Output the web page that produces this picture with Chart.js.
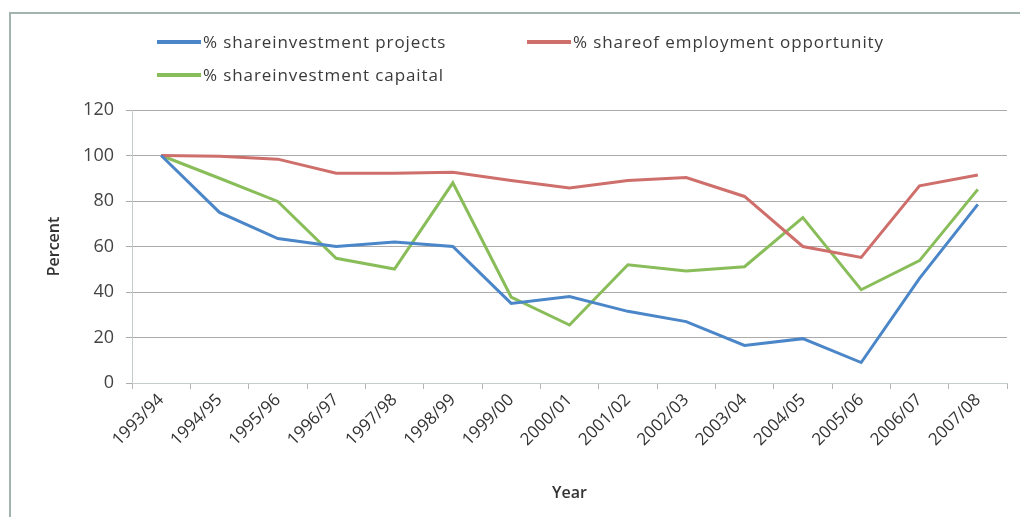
<!DOCTYPE html>
<html>
<head>
<meta charset="utf-8">
<script src="https://cdn.jsdelivr.net/npm/chart.js@4"></script>
<style>
  html, body { margin: 0; padding: 0; background: #fff; }
  #wrap { position: relative; width: 1020px; height: 517px; overflow: hidden; }
  #frame { position: absolute; left: 9px; top: 12px; right: -4px; bottom: -4px;
           border-left: 2px solid #a3b3af; border-top: 2px solid #a3b3af; }
  #chart { position: absolute; left: 0; top: 0; }
  .key { position: absolute; font-family: "Open Sans", sans-serif; font-size: 17px; color: #3a3a3a;
         white-space: nowrap; line-height: 20px; letter-spacing: 0.9px; }
  .key i { display: inline-block; width: 44px; height: 4px; vertical-align: middle;
           margin-right: 2px; position: relative; top: -1px; }
</style>
</head>
<body>
<div id="wrap">
  <div id="frame"></div>
  <canvas id="chart" width="1020" height="517"></canvas>
  <div id="legend"></div>
</div>
<script>
const years = ['1993/94', '1994/95', '1995/96', '1996/97', '1997/98', '1998/99', '1999/00',
               '2000/01', '2001/02', '2002/03', '2003/04', '2004/05', '2005/06', '2006/07', '2007/08'];
const projects = [100, 75, 63.5, 60, 62, 60, 35, 38, 31.5, 27, 16.5, 19.5, 9, 46, 78.5];
const employment = [100, 99.7, 98.4, 92.2, 92.2, 92.6, 89, 85.7, 89, 90.3, 82, 60, 55.2, 86.7, 91.4];
const capital = [100, 90, 79.8, 54.8, 50.1, 88, 37.8, 25.5, 52, 49.2, 51.1, 72.7, 41, 53.8, 85.1];
const yTicks = [0, 20, 40, 60, 80, 100, 120];

const series = [
  { label: '% shareinvestment projects', data: projects, color: '#4a86c8', left: 157, top: 32 },
  { label: '% shareof employment opportunity', data: employment, color: '#cf6f6c', left: 527, top: 32 },
  { label: '% shareinvestment capaital', data: capital, color: '#89bd5a', left: 157, top: 65 }
];

// legend laid out in two columns above the plot
const legend = document.getElementById('legend');
series.forEach(function (s) {
  const div = document.createElement('div');
  div.className = 'key';
  div.style.left = s.left + 'px';
  div.style.top = s.top + 'px';
  div.innerHTML = '<i style="background:' + s.color + '"></i>';
  div.appendChild(document.createTextNode(s.label));
  legend.appendChild(div);
});

const padLeft = 45, padBottom = 14;
const plotLeft = 132, plotBottom = 383;
const font = 'Open Sans';

const ctx = document.getElementById('chart').getContext('2d');
new Chart(ctx, {
  type: 'line',
  data: {
    labels: years,
    datasets: series.map(function (s) {
      return {
        label: s.label,
        data: s.data,
        borderColor: s.color,
        borderWidth: 3,
        pointRadius: 0,
        tension: 0,
        fill: false
      };
    })
  },
  options: {
    responsive: false,
    animation: false,
    layout: { padding: { left: padLeft, right: 13, top: 110, bottom: padBottom } },
    plugins: { legend: { display: false }, tooltip: { enabled: false } },
    scales: {
      x: {
        offset: true,
        grid: { offset: true, drawOnChartArea: false, tickLength: 6, color: '#b5b5b5' },
        border: { color: '#c4cccc' },
        ticks: {
          minRotation: 45, maxRotation: 45, padding: 1, color: '#333',
          font: { family: font, size: 17 }
        },
        title: {
          display: true, text: 'Year', color: '#333', padding: 0,
          font: { family: font, size: 16, weight: '600' }
        },
        afterFit: function (scale) { scale.height = 517 - plotBottom - padBottom; }
      },
      y: {
        min: 0, max: 120,
        afterBuildTicks: function (scale) {
          scale.ticks = yTicks.map(function (v) { return { value: v }; });
        },
        grid: { tickLength: 6, color: '#ababab' },
        border: { color: '#c4cccc' },
        ticks: { padding: 12, color: '#444', font: { family: font, size: 18 } },
        title: {
          display: true, text: 'Percent', color: '#333', padding: { top: 0, bottom: 0 },
          font: { family: font, size: 16, weight: '600' }
        },
        afterFit: function (scale) { scale.width = plotLeft - padLeft; }
      }
    }
  }
});
</script>
</body>
</html>
